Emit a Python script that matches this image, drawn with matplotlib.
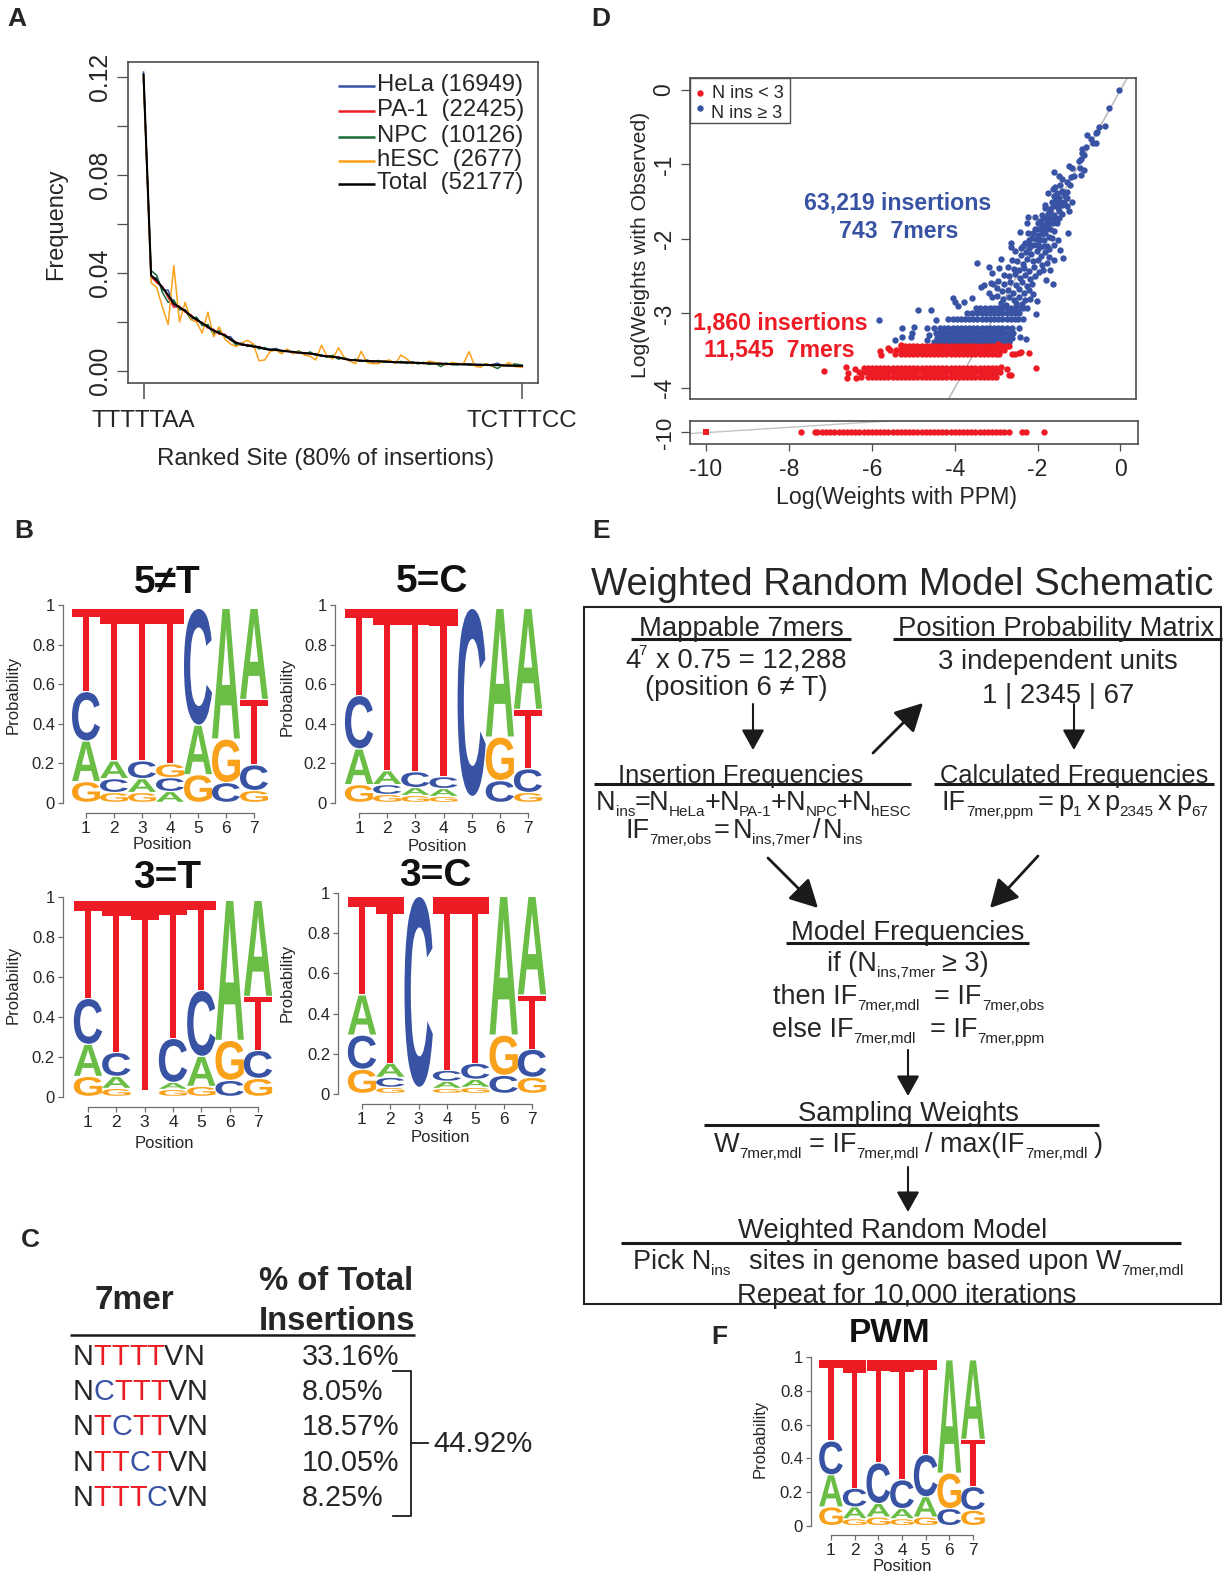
"""
Multi-panel figure: insertion-site frequency, model comparison, sequence logos,
7mer table and the weighted random model schematic.
"""

import matplotlib
matplotlib.use("Agg")
import matplotlib.pyplot as plt
from matplotlib.font_manager import FontProperties
from matplotlib.patches import PathPatch, Rectangle
from matplotlib.path import Path
from matplotlib.textpath import TextPath
from matplotlib.transforms import Affine2D

W, H = 1225, 1572
C_RED = "#ed1c24"
C_BLUE = "#3953a4"
C_GREEN = "#6abd45"
C_ORANGE = "#f9a11b"
C_TEXT = "#262626"
C_AXIS = "#4d4d4d"

# --- panel A (frequencies in thousandths)
site_rank = [0, 2, 3.5, 5, 6.5, 8, 9.5, 11, 12.5, 14,
             15.5, 17, 18.5, 20, 21.5, 23, 24.5, 26, 27.5, 29,
             30.5, 32, 33.5, 35, 36.5, 38, 39.5, 41, 42.5, 44,
             45.5, 47, 48.5, 50, 51.5, 53, 54.5, 56, 57.5, 59,
             60.5, 62, 63.5, 65, 66.5, 68, 69.5, 71, 72.5, 74,
             75.5, 77, 78.5, 80, 81.5, 83, 84.5, 86, 87.5, 89,
             90.5, 92, 93.5, 95, 96.5, 98, 100]
freq_total = [121, 39, 37, 34, 31, 27.5, 26, 24.5, 22.5, 21,
              19.5, 18, 16.5, 15.5, 14.5, 13, 11.5, 10.8, 10.4, 10,
              9.7, 9, 8.7, 8.6, 8.3, 8, 7.8, 7.5, 7.3, 7.1,
              6.8, 6.2, 6, 5.8, 5.5, 5, 4.5, 4.4, 4.2, 4.1,
              4, 3.9, 3.9, 3.7, 3.6, 3.5, 3.5, 3.4, 3.3, 3.2,
              3.1, 3, 3, 2.9, 2.8, 2.8, 2.7, 2.7, 2.6, 2.5,
              2.5, 2.4, 2.4, 2.3, 2.2, 2.1, 2.1]
freq_hela = [122, 38, 38, 33, 33, 27, 25.5, 25, 21.5, 21.5,
             19, 18.5, 15.5, 16, 14, 14, 11, 11.5, 10, 10.5,
             9.5, 9.2, 8.8, 9.2, 8, 8.3, 7.4, 7.8, 7, 7.4,
             6.5, 6.4, 5.8, 6.1, 5.2, 5.2, 4.3, 4.6, 4, 4.3,
             3.8, 4.1, 3.7, 3.9, 3.5, 3.7, 3.3, 3.6, 3.1, 3.4,
             2.9, 3.2, 2.8, 3.1, 2.7, 3, 2.6, 2.8, 2.5, 2.7,
             2.3, 2.6, 3.2, 2.1, 2.4, 2.6, 2.2]
freq_pa1 = [120, 38.5, 36, 34.5, 30, 26, 26.5, 24, 23, 20.5,
            19.8, 17.5, 17, 15, 15, 12.5, 11.8, 10.5, 10.8, 9.8,
            10, 9, 8.5, 8.9, 8.1, 8.2, 7.6, 7.3, 7.5, 6.9,
            7, 6, 6.2, 5.6, 5.7, 4.8, 4.6, 4.3, 4.3, 4,
            4.1, 3.8, 4, 3.6, 3.7, 3.4, 3.6, 3.3, 3.4, 3.1,
            3.2, 2.9, 3.1, 2.8, 2.9, 2.7, 2.8, 2.6, 2.7, 2.4,
            2.6, 2.3, 2.5, 2.2, 2.3, 2.1, 2]
freq_npc = [119, 41, 39, 32, 28, 29, 25, 25, 21, 22,
            18.5, 19, 15, 16.5, 14, 13, 10.5, 11, 10.2, 10.8,
            9, 9.6, 8.4, 9, 7.8, 8.6, 7.2, 8.2, 6.8, 7.8,
            6.4, 6.6, 5.6, 6.4, 4.8, 5.6, 4.2, 4.8, 3.9, 4.5,
            3.7, 4.3, 3.5, 4.1, 3.3, 3.9, 3.1, 3.7, 2.9, 3.5,
            2.7, 3.3, 1.8, 3.1, 2.6, 2.5, 3, 2.4, 2.6, 2.2,
            2.9, 2.1, 1, 2.5, 2, 2.9, 2.4]
freq_hesc = [120, 36, 34, 26, 19, 43, 20, 28, 21, 20,
             15.5, 24, 14, 18, 13, 11, 10, 11.5, 12.5, 11,
             4.2, 4.5, 8, 8.5, 7, 9, 7, 8, 6.5, 6,
             4.5, 10.5, 6, 5, 9.5, 5.5, 4, 3, 8, 3.5,
             3, 3, 4, 4.5, 3, 6.5, 5, 3, 3.5, 3,
             4, 3.5, 3, 2.5, 3.5, 3, 3, 7.9, 2, 1.5,
             3, 2, 2.5, 2, 3.5, 1.8, 1.5]
legend_a_labels = ["HeLa (16949)", "PA-1  (22425)", "NPC  (10126)", "hESC  (2677)", "Total  (52177)"]
legend_a_colors = [C_BLUE, C_RED, "#1a6b35", C_ORANGE, "#000000"]

# --- panel D
blue_x = [-0.03, -0.27, -0.37, -0.51, -0.57, -0.6, -0.8, -0.72, -0.6, -0.67, -0.84, -0.94, -0.92, -0.88, -0.96, -1.0,
          -1.25, -1.17, -0.98, -0.87, -0.95, -1.61, -1.49, -1.41, -1.2, -1.12, -1.28, -1.22, -1.45, -1.57,
          -1.64, -1.28, -1.75, -1.41, -1.6, -1.49, -1.16, -1.36, -1.65, -1.81, -1.57, -1.45, -1.24, -1.49,
          -1.69, -1.81, -1.9, -2.22, -2.06, -1.57, -1.69, -1.77, -2.26, -1.98, -1.86, -1.53, -1.9, -2.06,
          -2.43, -2.22, -1.26, -1.81, -1.98, -2.14, -1.65, -2.65, -2.65, -2.35, -2.1, -1.93, -1.77, -1.61,
          -2.39, -2.23, -1.99, -1.38, -1.62, -2.05, -1.45, -1.5, -1.6, -1.7, -1.8,
          -3.47, -3.18, -2.92, -2.88, -3.11, -3.3, -3.37, -3.13, -3.17, -3.08, -4.05, -4.0, -3.78, -3.58, -3.93,
          -4.89, -4.56, -5.83, -4.44, -5.27, -4.98, -5.02, -5.06, -5.27, -5.43, -4.68, -4.5, -4.62, -4.66, -4.46,
          -2.29, -2.42, -2.45, -2.35, -2.02]
blue_y = [0, -0.24, -0.49, -0.5, -0.57, -0.58, -0.6, -0.66, -0.71, -0.71, -0.76, -0.79, -0.84, -0.88, -0.93, -0.95,
          -1.02, -1.05, -1.05, -1.08, -1.14, -1.1, -1.16, -1.19, -1.17, -1.16, -1.23, -1.28, -1.28, -1.3,
          -1.33, -1.37, -1.39, -1.37, -1.43, -1.45, -1.5, -1.5, -1.5, -1.54, -1.54, -1.52, -1.63, -1.63,
          -1.63, -1.59, -1.68, -1.7, -1.7, -1.72, -1.72, -1.74, -1.79, -1.79, -1.81, -1.79, -1.87, -1.86,
          -1.91, -1.92, -1.92, -1.92, -1.95, -1.99, -1.99, -2.05, -2.11, -2.1, -2.08, -2.11, -2.1, -2.08,
          -2.12, -2.05, -2.08, -2.26, -2.61, -3.01, -2.15, -2.02, -2.28, -2.42, -2.55,
          -2.32, -2.37, -2.39, -2.27, -2.46, -2.62, -2.65, -2.59, -2.73, -2.6, -2.79, -2.85, -2.84, -2.79, -2.9,
          -2.95, -2.95, -3.09, -3.09, -3.19, -3.18, -3.26, -3.32, -3.32, -3.36, -3.19, -3.2, -3.29, -3.35, -3.26,
          -3.34, -3.31, -3.2, -3.08, -2.83]
blue_mid_x = [-1.4, -1.35, -1.52, -1.3, -1.42, -1.55, -1.62, -1.3, -1.5, -1.72, -1.4, -1.6, -1.75, -1.85, -1.48,
              -1.95, -1.62, -1.75, -1.9, -2.0, -1.7, -1.82, -1.6, -2.12, -1.9, -1.72, -2.05, -1.85, -1.95, -2.2,
              -2.3, -2.02, -1.85, -2.2, -1.72,
              -2.55, -2.4, -2.28, -2.15, -2.02, -1.92, -1.82, -1.72, -2.62, -2.5, -2.36, -2.25, -2.12, -2.0, -1.9,
              -1.78, -2.72, -2.58, -2.46, -2.32, -2.2, -2.08, -1.96, -1.86, -2.82, -2.68, -2.55, -2.42, -2.3,
              -2.18, -2.06, -2.95, -2.8, -2.66, -2.52, -2.38, -2.26, -2.14, -2.98, -2.86, -2.72, -2.6, -2.46,
              -2.34, -2.2, -2.1, -3.1, -2.98, -2.84, -2.7, -2.58, -2.44, -2.3, -2.18, -2.88, -2.76, -2.52, -2.38]
blue_mid_y = [-1.35, -1.42, -1.38, -1.45, -1.55, -1.48, -1.56, -1.56, -1.58, -1.6, -1.66, -1.68, -1.66, -1.72, -1.72,
              -1.76, -1.78, -1.8, -1.8, -1.86, -1.86, -1.86, -1.9, -1.92, -1.94, -1.98, -2.0, -2.02, -2.02, -2.02,
              -2.05, -2.08, -2.1, -2.12, -2.14,
              -2.16, -2.22, -2.17, -2.2, -2.16, -2.23, -2.18, -2.24, -2.28, -2.3, -2.33, -2.27, -2.3, -2.28, -2.35,
              -2.32, -2.38, -2.4, -2.42, -2.39, -2.43, -2.38, -2.44, -2.42, -2.48, -2.5, -2.47, -2.52, -2.49,
              -2.54, -2.5, -2.56, -2.6, -2.58, -2.62, -2.58, -2.63, -2.6, -2.66, -2.7, -2.68, -2.72, -2.67,
              -2.72, -2.68, -2.74, -2.78, -2.76, -2.8, -2.78, -2.82, -2.78, -2.82, -2.8, -2.86, -2.88, -2.86, -2.87]
blue_row_y = [-2.93, -3.0, -3.08, -3.19, -3.26, -3.33, -3.38]
blue_row_x = [
    [-3.48, -3.38, -3.28, -3.15, -3.05, -2.95, -2.85, -2.75, -2.65, -2.55, -2.45, -2.35, -2.25],
    [-3.7, -3.58, -3.46, -3.35, -3.25, -3.15, -3.05, -2.95, -2.85, -2.75, -2.65, -2.55, -2.45],
    [-4.15, -4.05, -3.95, -3.85, -3.75, -3.65, -3.55, -3.45, -3.35, -3.25, -3.15, -3.05, -2.95, -2.85, -2.75, -2.65,
     -2.55, -2.47],
    [-4.35, -4.25, -4.15, -4.05, -3.95, -3.85, -3.75, -3.65, -3.55, -3.45, -3.35, -3.25, -3.15, -3.05, -2.95, -2.85,
     -2.75, -2.62],
    [-4.4, -4.3, -4.2, -4.1, -4.0, -3.9, -3.8, -3.7, -3.6, -3.5, -3.4, -3.3, -3.2, -3.1, -3.0, -2.9, -2.8, -2.7,
     -2.6],
    [-4.42, -4.32, -4.22, -4.12, -4.02, -3.92, -3.82, -3.72, -3.62, -3.52, -3.42, -3.32, -3.22, -3.12, -3.02, -2.92,
     -2.82, -2.72, -2.62],
    [-4.5, -4.38, -4.28, -4.18, -4.08, -3.98, -3.88, -3.78, -3.68, -3.58, -3.48, -3.38, -3.28, -3.18, -3.08, -2.98,
     -2.88, -2.78, -2.68],
]
red_x = [-5.8, -5.78, -5.62, -2.62, -2.55, -2.45, -2.4, -2.2, -7.15, -6.62, -6.58, -6.6, -6.4, -6.38, -2.88, -2.75,
         -2.7, -2.65, -2.05, -2.95, -5.3]
red_y = [-3.5, -3.56, -3.46, -3.55, -3.54, -3.53, -3.52, -3.53, -3.77, -3.72, -3.8, -3.87, -3.74, -3.86, -3.72, -3.74,
         -3.82, -3.83, -3.73, -3.41, -3.42]
red_row_y = [-3.44, -3.49, -3.54, -3.73, -3.79, -3.85]
red_row_x = [
    [-5.3, -5.2, -5.1, -5.0, -4.9, -4.8, -4.7, -4.6, -4.5, -4.4, -4.3, -4.2, -4.1, -4.0, -3.9, -3.8, -3.7, -3.6,
     -3.5, -3.4, -3.3, -3.2, -3.1, -3.0, -2.85, -2.75, -2.68],
    [-5.55, -5.42, -5.3, -5.2, -5.1, -5.0, -4.9, -4.8, -4.7, -4.6, -4.5, -4.4, -4.3, -4.2, -4.1, -4.0, -3.9, -3.8,
     -3.7, -3.6, -3.5, -3.4, -3.3, -3.2, -3.1, -3.0, -2.9, -2.8],
    [-5.45, -5.3, -5.2, -5.1, -5.0, -4.9, -4.8, -4.7, -4.6, -4.5, -4.4, -4.3, -4.2, -4.1, -4.0, -3.9, -3.8, -3.7,
     -3.6, -3.5, -3.4, -3.3, -3.2, -3.1, -3.0, -2.92],
    [-6.2, -6.1, -6.0, -5.9, -5.8, -5.7, -5.6, -5.5, -5.4, -5.3, -5.2, -5.1, -5.0, -4.9, -4.8, -4.7, -4.6, -4.5,
     -4.4, -4.3, -4.2, -4.1, -4.0, -3.9, -3.8, -3.7, -3.6, -3.5, -3.4, -3.3, -3.2, -3.1, -3.0],
    [-6.32, -6.2, -6.1, -6.0, -5.9, -5.8, -5.7, -5.6, -5.5, -5.4, -5.3, -5.2, -5.1, -5.0, -4.9, -4.8, -4.7, -4.6,
     -4.5, -4.4, -4.3, -4.2, -4.1, -4.0, -3.9, -3.8, -3.7, -3.6, -3.5, -3.4, -3.3, -3.2, -3.1, -3.0, -2.9],
    [-6.25, -6.1, -6.0, -5.9, -5.8, -5.7, -5.6, -5.5, -5.4, -5.3, -5.2, -5.1, -5.0, -4.9, -4.8, -4.7, -4.6, -4.5,
     -4.4, -4.3, -4.2, -4.1, -4.0, -3.9, -3.8, -3.7, -3.6, -3.5, -3.4, -3.3, -3.2, -3.1, -3.0],
]
strip_x = [-7.7, -7.38, -7.32, -7.2, -7.1, -7.0, -6.9, -6.8, -6.7, -6.6, -6.5, -6.4, -6.3, -6.2, -6.1, -6.0, -5.9,
           -5.8, -5.7, -5.6, -5.5, -5.4, -5.3, -5.2, -5.1, -5.0, -4.9, -4.8, -4.7, -4.6, -4.5, -4.4, -4.3, -4.2,
           -4.1, -4.0, -3.9, -3.8, -3.7, -3.6, -3.5, -3.4, -3.3, -3.2, -3.1, -3.0, -2.9, -2.8, -2.7, -2.38, -2.28,
           -1.85]

# --- sequence logos: letters bottom to top, "_" is empty space
logo_a_letters = ["GACT", "GCAT", "GACT", "ACGT", "GAC", "CGA", "GCTA"]
logo_a_heights = [[.105, .205, .25, .42], [.05, .07, .09, .77], [.05, .07, .09, .77], [.055, .07, .07, .785],
                  [.14, .25, .59], [.10, .22, .66], [.06, .13, .33, .46]]
logo_b_letters = ["GACT", "GCAT", "GACT", "GACT", "_C", "CGA", "GCTA"]
logo_b_heights = [[.09, .18, .27, .44], [.04, .05, .07, .82], [.035, .04, .08, .825], [.03, .04, .06, .85],
                  [.03, .95], [.11, .22, .65], [.05, .12, .30, .51]]
logo_c_letters = ["GACT", "GACT", "_T", "GACT", "GACT", "CGA", "GCTA"]
logo_c_heights = [[.10, .16, .23, .49], [.04, .06, .12, .76], [.03, .95], [.035, .035, .22, .69],
                  [.05, .15, .33, .45], [.08, .20, .70], [.09, .14, .27, .48]]
logo_d_letters = ["GCAT", "GCAT", "_C", "GACT", "GACT", "CGA", "GCTA"]
logo_d_heights = [[.12, .17, .20, .49], [.03, .05, .07, .83], [.03, .95], [.025, .035, .055, .865],
                  [.03, .04, .08, .83], [.09, .20, .69], [.08, .14, .27, .49]]
logo_f_letters = ["GACT", "GACT", "GACT", "GACT", "GACT", "CGA", "GCTA"]
logo_f_heights = [[.11, .19, .20, .48], [.04, .07, .11, .76], [.05, .08, .24, .61], [.04, .06, .17, .71],
                  [.05, .12, .25, .56], [.10, .21, .67], [.09, .14, .28, .47]]
logo_colors = {"A": C_GREEN, "C": C_BLUE, "G": C_ORANGE, "T": C_RED}

# --- panel C
mer_letters = ["NTTTTVN", "NCTTTVN", "NTCTTVN", "NTTCTVN", "NTTTCVN"]
mer_percent = ["33.16%", "8.05%", "18.57%", "10.05%", "8.25%"]

plt.rcParams["font.family"] = ["Liberation Sans", "DejaVu Sans"]
fig = plt.figure(figsize=(W / 100, H / 100), dpi=100)
renderer = fig.canvas.get_renderer()


def px_axes(left, top, right, bottom):
    return fig.add_axes([left / W, 1 - bottom / H, (right - left) / W, (bottom - top) / H])


def px_pt(n):
    return n * 0.72


def style_frame(ax):
    for s in ax.spines.values():
        s.set_color(C_AXIS)
        s.set_linewidth(1.2)


# Panel A
ax_a = px_axes(128, 62, 538, 383)
ax_a.plot(site_rank, [v / 1000 for v in freq_hela], color=legend_a_colors[0], lw=1.1)
ax_a.plot(site_rank, [v / 1000 for v in freq_pa1], color=legend_a_colors[1], lw=1.1)
ax_a.plot(site_rank, [v / 1000 for v in freq_npc], color=legend_a_colors[2], lw=1.1)
ax_a.plot(site_rank, [v / 1000 for v in freq_hesc], color=legend_a_colors[3], lw=1.1)
ax_a.plot(site_rank, [v / 1000 for v in freq_total], color=legend_a_colors[4], lw=1.5)
ax_a.set_xlim(-4.1, 104.2)
ax_a.set_ylim(-0.0049, 0.1261)
ax_a.set_yticks([0, .02, .04, .06, .08, .10, .12])
ax_a.set_yticklabels(["0.00", "", "0.04", "", "0.08", "", "0.12"], rotation=90, va="center",
                     fontsize=17.8, color=C_TEXT)
ax_a.set_xticks([0, 100])
ax_a.set_xticklabels(["TTTTTAA", "TCTTTCC"], fontsize=17.4, color=C_TEXT)
ax_a.tick_params(axis="y", length=px_pt(11), width=0.9, color=C_AXIS, pad=px_pt(5))
ax_a.tick_params(axis="x", length=px_pt(16), width=1.1, color=C_AXIS, pad=px_pt(11))
style_frame(ax_a)

# Panel D
DOT = 21
ax_d = px_axes(689.5, 78, 1136, 399)
ax_d.plot([0.16, -4.4], [0.16, -4.4], color="#bdbdbd", lw=1.2, zorder=1)
for y, xs in zip(blue_row_y, blue_row_x):
    ax_d.scatter(xs, [y] * len(xs), s=DOT, color=C_BLUE, linewidths=0, zorder=2)
ax_d.scatter(blue_x, blue_y, s=DOT, color=C_BLUE, linewidths=0, zorder=2)
ax_d.scatter(blue_mid_x, blue_mid_y, s=DOT, color=C_BLUE, linewidths=0, zorder=2)
for y, xs in zip(red_row_y, red_row_x):
    ax_d.scatter(xs, [y] * len(xs), s=DOT, color=C_RED, linewidths=0, zorder=3)
ax_d.scatter(red_x, red_y, s=DOT, color=C_RED, linewidths=0, zorder=3)
ax_d.set_xlim(-10.398, 0.374)
ax_d.set_ylim(-4.148, 0.16)
ax_d.set_xticks([])
ax_d.set_yticks([0, -1, -2, -3, -4])
ax_d.set_yticklabels(["0", "-1", "-2", "-3", "-4"], rotation=90, va="center", fontsize=16.5, color=C_TEXT)
ax_d.tick_params(axis="y", length=px_pt(9), width=0.9, color=C_AXIS, pad=px_pt(5))
style_frame(ax_d)

ax_s = px_axes(689.5, 421, 1137.7, 444)
ax_s.plot([-10.4, -5.6], [-10.03, -9.7], color="#c4c4c4", lw=1.0, zorder=1)
ax_s.scatter(strip_x, [-10] * len(strip_x), s=DOT, color=C_RED, linewidths=0, zorder=2)
ax_s.scatter([-10], [-10], s=14, marker="s", color=C_RED, linewidths=0, zorder=2)
ax_s.set_xlim(-10.398, 0.415)
ax_s.set_ylim(-10.3, -9.7)
ax_s.set_yticks([-10])
ax_s.set_yticklabels(["-10"], rotation=90, va="center", fontsize=16, color=C_TEXT)
ax_s.set_xticks([-10, -8, -6, -4, -2, 0])
ax_s.set_xticklabels(["-10", "-8", "-6", "-4", "-2", "0"], fontsize=16.5, color=C_TEXT)
ax_s.tick_params(axis="y", length=px_pt(9), width=0.9, color=C_AXIS, pad=px_pt(5))
ax_s.tick_params(axis="x", length=px_pt(7), width=0.9, color=C_AXIS, pad=px_pt(7))
style_frame(ax_s)

LOGO_FONT = FontProperties(family="Liberation Sans", weight="bold")
# flat-topped T as in the logos: wide bar, one tenth of the letter high
T_OUTLINE = Path([(0, 1), (1, 1), (1, 0.9), (0.61, 0.9), (0.61, 0), (0.39, 0), (0.39, 0.9), (0, 0.9), (0, 1)])


def draw_logo(letters, heights, axis_x, y1, y0, pos1, pos7, axis_y):
    step = (pos7 - pos1) / 6
    ax = px_axes(pos1 - step / 2, y1, pos7 + step / 2, y0)
    ax.set_xlim(0.5, 7.5)
    ax.set_ylim(0, 1)
    ax.patch.set_alpha(0)
    for i, (stack, hts) in enumerate(zip(letters, heights)):
        base = 0.0
        for ch, h in zip(stack, hts):
            if ch == "T":
                tr = Affine2D().scale(1.0, h - 0.006).translate(i + 0.5, base + 0.006) + ax.transData
                ax.add_patch(PathPatch(T_OUTLINE, transform=tr, color=logo_colors[ch], lw=0, clip_on=False))
            elif ch != "_":
                tp = TextPath((0, 0), ch, size=1, prop=LOGO_FONT)
                bb = tp.get_extents()
                tr = (Affine2D().translate(-bb.x0, -bb.y0).scale(1.0 / bb.width, (h - 0.006) / bb.height)
                      .translate(i + 0.5, base + 0.006) + ax.transData)
                ax.add_patch(PathPatch(tp, transform=tr, color=logo_colors[ch], lw=0, clip_on=False))
            base += h
    for side in ("top", "right"):
        ax.spines[side].set_visible(False)
    ax.spines["left"].set_position(("outward", px_pt(pos1 - step / 2 - axis_x)))
    ax.spines["bottom"].set_position(("outward", px_pt(axis_y - y0)))
    ax.spines["left"].set_bounds(0, 1)
    ax.spines["bottom"].set_bounds(1, 7)
    for side in ("left", "bottom"):
        ax.spines[side].set_color("#6e6e6e")
        ax.spines[side].set_linewidth(0.9)
    ax.set_yticks([0, .2, .4, .6, .8, 1])
    ax.set_yticklabels(["0", "0.2", "0.4", "0.6", "0.8", "1"], fontsize=12, color=C_TEXT)
    ax.set_xticks(range(1, 8))
    ax.set_xticklabels([str(p) for p in range(1, 8)], fontsize=12.5, color=C_TEXT)
    ax.tick_params(axis="both", length=px_pt(5), width=0.9, color="#6e6e6e", pad=px_pt(3))


draw_logo(logo_a_letters, logo_a_heights, 63, 605, 803, 86, 254, 813)
draw_logo(logo_b_letters, logo_b_heights, 335, 605, 803, 359, 528, 813)
draw_logo(logo_c_letters, logo_c_heights, 63, 897, 1097, 88, 258, 1107)
draw_logo(logo_d_letters, logo_d_heights, 338, 893, 1094, 362, 532, 1104)
draw_logo(logo_f_letters, logo_f_heights, 811, 1357, 1526, 831, 973, 1535)

# Everything else is placed on a pixel overlay
ov = fig.add_axes([0, 0, 1, 1], zorder=10)
ov.set_xlim(0, W)
ov.set_ylim(H, 0)
ov.axis("off")
ov.patch.set_alpha(0)


def put(x, y, s, size, ha="center", weight="normal", color=C_TEXT, rotation=0):
    # va=center sits a little high for this font, so nudge by a share of the size
    if rotation:
        x += size * 0.14
    else:
        y += size * 0.14
    return ov.text(x, y, s, fontsize=size, ha=ha, va="center", fontweight=weight, color=color,
                   rotation=rotation, rotation_mode="anchor" if rotation else "default")


def width_of(s, size):
    w, _, _ = renderer.get_text_width_height_descent(s, FontProperties(family="Liberation Sans", size=size), False)
    return w


def rich(x0, x1, y, parts, size=19.5, sub=11, drop=9):
    """Lay out pieces from x0 to x1; a piece ending in '_' is a subscript set tight to its base."""
    sizes = [sub if p.endswith("_") else size for p in parts]
    clean = [p.rstrip("_") for p in parts]
    total = sum(width_of(p, s) for p, s in zip(clean, sizes))
    n_gaps = sum(1 for p in parts[1:] if not p.endswith("_"))
    gap = (x1 - x0 - total) / max(n_gaps, 1)
    x = x0
    for k, (p, s, c) in enumerate(zip(parts, sizes, clean)):
        if k > 0 and not p.endswith("_"):
            x += gap
        ov.text(x, y + size * 0.14 + (drop if p.endswith("_") else 0), c, fontsize=s, ha="left", va="center",
                color=C_TEXT)
        x += width_of(c, s)


def rule(x0, x1, y, lw=2.2):
    ov.plot([x0, x1], [y, y], color="#1a1a1a", lw=lw, solid_capstyle="butt")


def arrow(start, end, big=False):
    if big:
        style, lw = "-|>,head_length=17,head_width=9", 2.0
    else:
        style, lw = "-|>,head_length=12.5,head_width=7", 1.5
    ov.annotate("", xy=end, xytext=start,
                arrowprops=dict(arrowstyle=style, mutation_scale=1, lw=lw, color="#1a1a1a",
                                shrinkA=0, shrinkB=0))


# panel letters
for letter, lx, ly in [("A", 17, 16), ("D", 601, 16), ("B", 24, 528), ("E", 601, 528), ("C", 30, 1237), ("F", 719, 1334)]:
    put(lx, ly, letter, 19, weight="bold")

# A texts
put(54, 224, "Frequency", 17, rotation=90)
put(326, 457, "Ranked Site (80% of insertions)", 17.3)
for k, (lab, col) in enumerate(zip(legend_a_labels, legend_a_colors)):
    ly = [83, 108, 134, 158, 181][k]
    ov.plot([338, 375], [ly + 3, ly + 3], color=col, lw=1.8, solid_capstyle="butt")
    put(377, ly, lab, 17.2, ha="left")

# D texts
put(638, 245, "Log(Weights with Observed)", 15.2, rotation=90)
put(896, 495, "Log(Weights with PPM)", 16.7)
put(898, 201, "63,219 insertions", 16.7, weight="bold", color=C_BLUE)
put(899, 229, "743  7mers", 16.7, weight="bold", color=C_BLUE)
put(780, 321, "1,860 insertions", 16.7, weight="bold", color=C_RED)
put(779, 348, "11,545  7mers", 16.7, weight="bold", color=C_RED)
ov.add_patch(Rectangle((689.5, 78), 100, 45, fill=False, ec=C_AXIS, lw=1.0))
ov.scatter([700], [93], s=DOT, color=C_RED, linewidths=0)
ov.scatter([700], [108], s=DOT, color=C_BLUE, linewidths=0)
put(712, 92, "N ins < 3", 13, ha="left")
put(711, 112, "N ins \u2265 3", 13, ha="left")

# logo titles and axis labels
for title, tx, ty, size in [("5\u2260T", 167, 579, 28), ("5=C", 432, 578, 28), ("3=T", 167, 874, 28),
                            ("3=C", 435, 872, 28), ("PWM", 890, 1330, 24)]:
    put(tx, ty, title, size, weight="bold", color="#111111")
for px, py in [(162, 843), (437, 845), (164, 1142), (440, 1136), (902, 1565)]:
    put(px, py, "Position", 12)
for px, py in [(11, 695), (285, 697), (11, 985), (285, 983), (758, 1439)]:
    put(px, py, "Probability", 12, rotation=90)

# panel C
put(134, 1297, "7mer", 24, weight="bold")
put(259, 1278, "% of Total", 23.6, ha="left", weight="bold")
put(259, 1318, "Insertions", 23.6, ha="left", weight="bold")
rule(70, 415, 1335, lw=1.8)
mer_y = [1354, 1389, 1424, 1460, 1495]
for mer, pct, my in zip(mer_letters, mer_percent, mer_y):
    x = 73
    for i, ch in enumerate(mer):
        col = C_TEXT if i in (0, 5, 6) else (C_RED if ch == "T" else C_BLUE)
        ov.text(x, my + 2.9, ch, fontsize=20.8, ha="left", va="center", color=col)
        x += width_of(ch, 20.8)
    put(302, my, pct, 20.7, ha="left")
ov.plot([393, 411, 411, 393], [1371, 1371, 1516, 1516], color="#1a1a1a", lw=1.3)
ov.plot([411, 428], [1443, 1443], color="#1a1a1a", lw=1.3)
put(433, 1441, "44.92%", 21.2, ha="left")

# panel E
put(902, 581, "Weighted Random Model Schematic", 27.6)
ov.add_patch(Rectangle((584, 607), 637, 697, fill=False, ec="#222222", lw=1.5))
put(741, 626, "Mappable 7mers", 19.8)
rule(631, 851, 639)
put(1056, 626, "Position Probability Matrix", 19.8)
rule(893, 1222, 639)
put(625, 658, "4", 19.8, ha="left")
ov.text(638, 651, "7", fontsize=11, ha="left", va="center", color=C_TEXT)
put(847, 658, "x 0.75 = 12,288", 19.8, ha="right")
put(736, 685, "(position 6 \u2260 T)", 19.8)
put(1058, 659, "3 independent units", 19.8)
put(1058, 693, "1 | 2345 | 67", 19.8)
arrow((753, 704), (753, 750))
arrow((873, 753), (923, 703), big=True)
arrow((1074, 704), (1074, 750))
put(741, 773, "Insertion Frequencies", 18.4)
rule(594, 911, 784)
put(1074, 773, "Calculated Frequencies", 18.4)
rule(934, 1214, 784)
rich(596, 911, 800, ["N", "ins_", "=", "N", "HeLa_", "+", "N", "PA-1_", "+", "N", "NPC_", "+", "N", "hESC_"])
rich(625, 862, 828, ["IF", "7mer,obs_", "=", "N", "ins,7mer_", "/", "N", "ins_"])
rich(942, 1208, 800, ["IF", "7mer,ppm_", "=", "p", "1_", "x", "p", "2345_", "x", "p", "67_"])
arrow((768, 858), (818, 908), big=True)
arrow((1038, 856), (990, 908), big=True)
put(908, 930, "Model Frequencies", 19.8)
rule(786, 1029, 943)
rich(827, 989, 961, ["if (N", "ins,7mer_", "\u2265 3)"])
rich(773, 1044, 994, ["then IF", "7mer,mdl_", "= IF", "7mer,obs_"])
rich(772, 1045, 1027, ["else IF", "7mer,mdl_", "= IF", "7mer,ppm_"])
arrow((908, 1050), (908, 1096))
put(908, 1111, "Sampling Weights", 19.8)
rule(704, 1099, 1125)
rich(714, 1103, 1142, ["W", "7mer,mdl_", "= IF", "7mer,mdl_", "/ max(IF", "7mer,mdl_", ")"])
arrow((908, 1167), (908, 1212))
put(893, 1228, "Weighted Random Model", 19.8)
rule(621, 1181, 1243)
rich(633, 1184, 1259, ["Pick N", "ins_", "sites in genome based upon W", "7mer,mdl_"])
put(907, 1293, "Repeat for 10,000 iterations", 19.8)

fig.savefig("out.png", dpi=100)
